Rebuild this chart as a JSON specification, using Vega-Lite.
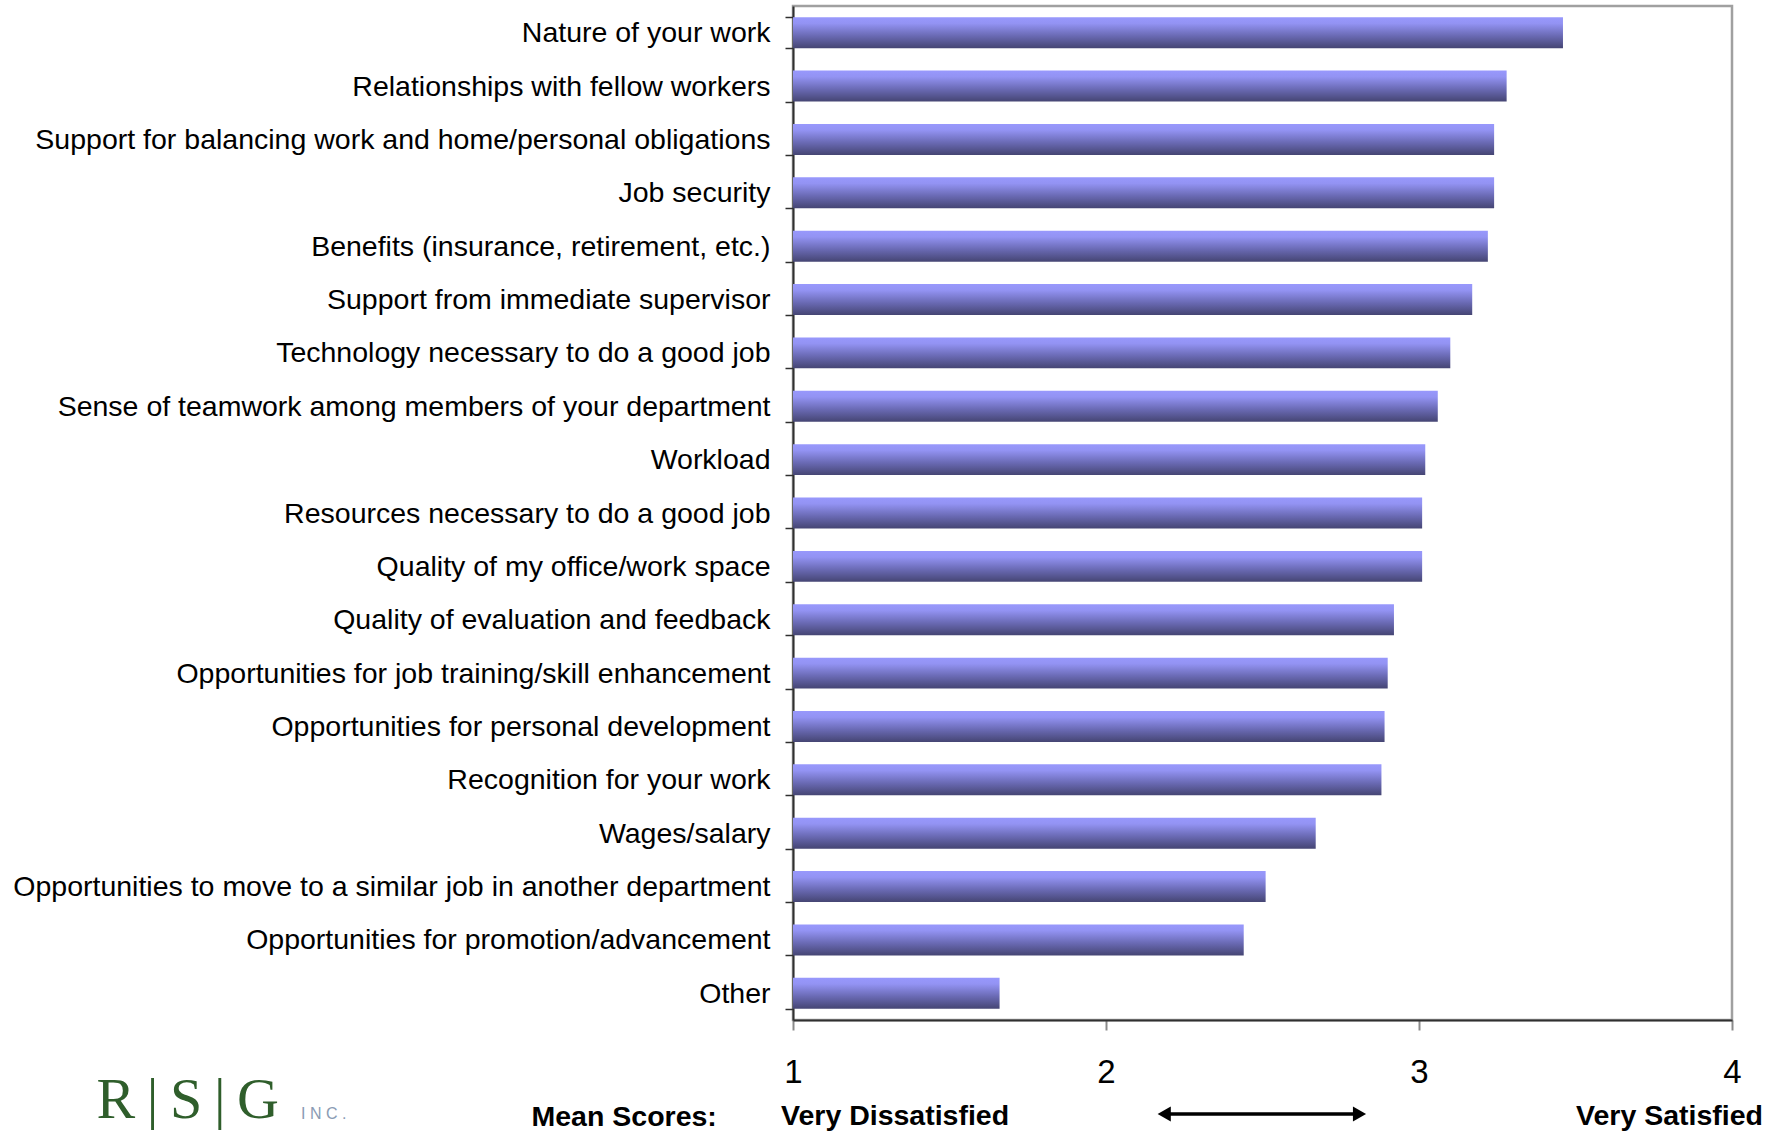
{
  "$schema": "https://vega.github.io/schema/vega-lite/v6.json",
  "autosize": "none",
  "width": 939,
  "height": 1014,
  "padding": {"left": 793, "top": 6, "right": 48, "bottom": 112},
  "background": "white",
  "title": {
    "text": "I   N   C   .",
    "orient": "top",
    "anchor": "start",
    "frame": "group",
    "offset": 0,
    "dx": -492,
    "dy": 1130,
    "font": "Liberation Sans",
    "fontSize": 16,
    "fontWeight": "normal",
    "color": "#8a9bb4"
  },
  "config": {
    "view": {"stroke": "#a0a0a0", "strokeWidth": 2.5},
    "axisY": {
      "domainColor": "#303030",
      "domainWidth": 2,
      "tickColor": "#303030",
      "tickWidth": 1.5,
      "tickSize": 8,
      "tickBand": "extent",
      "labelFont": "Liberation Sans",
      "labelFontSize": 28.5,
      "labelColor": "#000000",
      "labelPadding": 15,
      "labelLimit": 0,
      "grid": false
    },
    "axisX": {
      "domainColor": "#303030",
      "domainWidth": 2,
      "tickColor": "#8a8a8a",
      "tickWidth": 2,
      "tickSize": 10,
      "labelFont": "Liberation Sans",
      "labelFontSize": 33,
      "labelColor": "#000000",
      "labelPadding": 26,
      "labelFlush": false,
      "labelOverlap": false,
      "grid": false
    }
  },
  "layer": [
    {
      "data": {
        "values": [
          {"item": "Nature of your work", "mean": 3.46},
          {"item": "Relationships with fellow workers", "mean": 3.28},
          {"item": "Support for balancing work and home/personal obligations", "mean": 3.24},
          {"item": "Job security", "mean": 3.24},
          {"item": "Benefits (insurance, retirement, etc.)", "mean": 3.22},
          {"item": "Support from immediate supervisor", "mean": 3.17},
          {"item": "Technology necessary to do a good job", "mean": 3.10},
          {"item": "Sense of teamwork among members of your department", "mean": 3.06},
          {"item": "Workload", "mean": 3.02},
          {"item": "Resources necessary to do a good job", "mean": 3.01},
          {"item": "Quality of my office/work space", "mean": 3.01},
          {"item": "Quality of evaluation and feedback", "mean": 2.92},
          {"item": "Opportunities for job training/skill enhancement", "mean": 2.90},
          {"item": "Opportunities for personal development", "mean": 2.89},
          {"item": "Recognition for your work", "mean": 2.88},
          {"item": "Wages/salary", "mean": 2.67},
          {"item": "Opportunities to move to a similar job in another department", "mean": 2.51},
          {"item": "Opportunities for promotion/advancement", "mean": 2.44},
          {"item": "Other", "mean": 1.66}
        ]
      },
      "mark": {
        "type": "bar",
        "fill": {
          "gradient": "linear",
          "x1": 0, "y1": 0, "x2": 0, "y2": 1,
          "stops": [
            {"offset": 0, "color": "#9898fc"},
            {"offset": 0.2, "color": "#9393f3"},
            {"offset": 0.6, "color": "#6a6ab4"},
            {"offset": 1, "color": "#454573"}
          ]
        }
      },
      "encoding": {
        "y": {
          "field": "item",
          "type": "nominal",
          "sort": null,
          "scale": {"paddingInner": 0.42, "paddingOuter": 0.21},
          "axis": {
            "title": "R\u2009|\u2009S\u2009|\u2009G",
            "titleFont": "Liberation Serif",
            "titleFontSize": 58,
            "titleFontWeight": "normal",
            "titleColor": "#2f5e2b",
            "titleAngle": 0,
            "titleAlign": "left",
            "titleBaseline": "alphabetic",
            "titleX": -697,
            "titleY": 1111
          }
        },
        "x": {
          "field": "mean",
          "type": "quantitative",
          "scale": {"domain": [1, 4], "zero": false, "nice": false},
          "axis": {
            "values": [1, 2, 3, 4],
            "format": "d",
            "title": "Mean Scores:",
            "titleFont": "Liberation Sans",
            "titleFontSize": 28.5,
            "titleFontWeight": "bold",
            "titleColor": "#000000",
            "titleAlign": "left",
            "titleBaseline": "middle",
            "titleX": -262,
            "titleY": 96
          }
        },
        "x2": {"datum": 1}
      }
    },
    {
      "data": {"values": [{"score": 1, "label": "Very Dissatisfied"}]},
      "mark": {
        "type": "text",
        "align": "left",
        "baseline": "middle",
        "dx": -12,
        "dy": 96,
        "font": "Liberation Sans",
        "fontSize": 28.5,
        "fontWeight": "bold",
        "color": "#000000"
      },
      "encoding": {
        "x": {"field": "score", "type": "quantitative", "title": "Mean Scores:"},
        "y": {"value": "height"},
        "text": {"field": "label"}
      }
    },
    {
      "data": {"values": [{"score": 4, "label": "Very Satisfied"}]},
      "mark": {
        "type": "text",
        "align": "right",
        "baseline": "middle",
        "dx": 31,
        "dy": 96,
        "font": "Liberation Sans",
        "fontSize": 28.5,
        "fontWeight": "bold",
        "color": "#000000"
      },
      "encoding": {
        "x": {"field": "score", "type": "quantitative", "title": "Mean Scores:"},
        "y": {"value": "height"},
        "text": {"field": "label"}
      }
    },
    {
      "data": {"values": [{"from": 2.19, "to": 2.805}]},
      "mark": {"type": "rule", "color": "#000000", "strokeWidth": 3.5, "yOffset": 94},
      "encoding": {
        "x": {"field": "from", "type": "quantitative", "title": "Mean Scores:"},
        "x2": {"field": "to"},
        "y": {"value": "height"}
      }
    },
    {
      "data": {"values": [{"tip": 2.186, "head": "left"}, {"tip": 2.81, "head": "right"}]},
      "mark": {"type": "point", "filled": true, "opacity": 1, "color": "#000000", "size": 230, "yOffset": 94},
      "encoding": {
        "x": {"field": "tip", "type": "quantitative", "title": "Mean Scores:"},
        "y": {"value": "height"},
        "shape": {
          "field": "head",
          "type": "nominal",
          "scale": {"domain": ["left", "right"], "range": ["triangle-left", "triangle-right"]},
          "legend": null
        }
      }
    }
  ]
}
